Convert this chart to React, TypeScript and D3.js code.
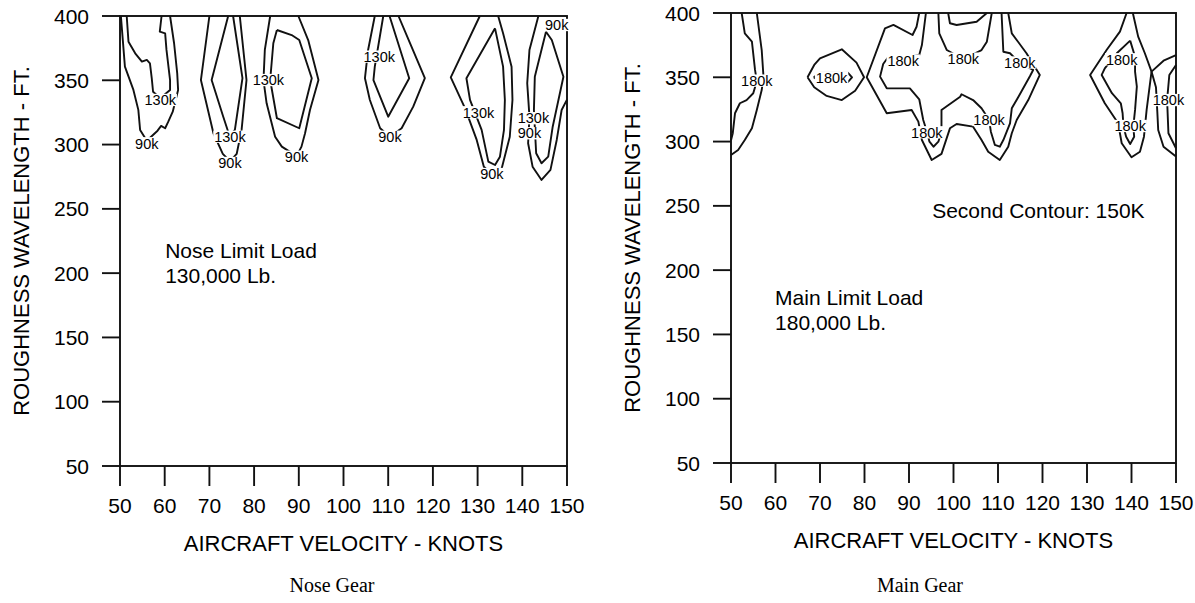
import React from "react";
import * as d3 from "d3";

type Pt = [number, number];

// Axis ticks
const velocityTicks = [50, 60, 70, 80, 90, 100, 110, 120, 130, 140, 150];
const wavelengthTicks = [50, 100, 150, 200, 250, 300, 350, 400];

// ---- Nose gear load contours: [velocity (kt), wavelength (ft)] ----
const noseA90: Pt[] = [[50.2, 400], [51.1, 360.6], [53.0, 342.5], [54.1, 327], [54.5, 311.4], [56.0, 303], [58.4, 310.8], [59.2, 314.5], [60.1, 312.7], [60.8, 317.8], [61.8, 325.6], [63.0, 342.5], [62.8, 355.4], [62.1, 378.8], [61.2, 400]];
const noseA130: Pt[] = [[51.5, 400], [51.9, 380], [53.4, 371], [54.9, 364.5], [56.0, 365.8], [56.7, 363.2], [57.1, 351.6], [57.4, 341.1], [59, 336], [61.2, 342.5], [61.2, 350.2], [60.4, 373.6], [60.1, 386.5], [58.9, 387.8], [59.3, 400]];
const noseB90: Pt[] = [[70.0, 400], [68.1, 350.2], [70.9, 308.8], [73.0, 292.7], [74.6, 287], [76.1, 292.7], [77.2, 311.4], [78.3, 350.2], [76.8, 400]];
const noseB130: Pt[] = [[74.2, 400], [70.5, 350.2], [73.1, 321.7], [74.2, 310], [74.6, 307], [75.7, 311.4], [77.4, 351.6], [75.3, 400]];
const noseC90: Pt[] = [[83.6, 400], [82.4, 373.6], [82.1, 350.2], [82.8, 332.1], [84.7, 306.1], [86.2, 298.4], [89.5, 291], [90.6, 298.4], [91.4, 308.8], [92.5, 326.9], [94.4, 350.2], [92.1, 381.3], [89.9, 400]];
const noseC130: Pt[] = [[85.1, 389.1], [88.4, 385.2], [90.1, 381.3], [92.9, 351.6], [90.1, 312.7], [85.1, 320.5], [83.6, 350.2], [84.3, 378.8], [85.1, 389.1]];
const noseD90: Pt[] = [[107.0, 400], [105.5, 373.6], [104.8, 351.6], [105.9, 334.7], [108.2, 312.7], [110.4, 306], [113.0, 312.7], [115.6, 329.5], [118.2, 351.6], [114.9, 378.8], [112.3, 400]];
const noseD130: Pt[] = [[108.9, 400], [107.0, 360.6], [106.7, 350.2], [110.0, 321.7], [114.7, 351.6], [110.3, 400]];
const noseE90: Pt[] = [[130.5, 400], [124.0, 352.3], [127.2, 328.2], [129.8, 303.6], [131.4, 282.8], [133.2, 277], [135.4, 281.6], [137.2, 306.1], [137.8, 334.7], [137.6, 360.6], [135.7, 386.5], [134.6, 400]];
const noseE130: Pt[] = [[133.9, 390.4], [127.5, 351.6], [128.3, 334.7], [130.9, 311.4], [132.4, 286.7], [133.9, 284.1], [135.0, 290.6], [135.9, 311.4], [136.1, 334.7], [135.7, 360.6], [133.9, 390.4]];
const noseF90: Pt[] = [[143.6, 400], [141.6, 373.6], [141.1, 347.7], [141.6, 321.7], [141.3, 301], [142.3, 282.8], [144.3, 272.5], [146.3, 280.3], [147.7, 303.6], [148.8, 326.9], [150, 335]];
const noseF130: Pt[] = [[145.3, 387.8], [142.8, 352.8], [142.6, 326.9], [143.1, 293.2], [144.3, 285.5], [145.8, 290.6], [146.8, 313.9], [149.2, 352.8], [146.6, 381.3], [145.3, 387.8]];

// Contour label texts and their anchor points
const noseLabelText = ["130k", "90k", "130k", "90k", "130k", "90k", "130k", "90k", "130k", "90k", "130k", "90k", "90k"];
const noseLabelAt: Pt[] = [[59.0, 334.7], [56.0, 301], [74.6, 306.1], [74.6, 285.7], [83.2, 350.2], [89.5, 290.6], [108.0, 368.4], [110.4, 306.1], [130.2, 325.1], [133.2, 277.1], [142.5, 320.5], [141.6, 308.8], [147.7, 393]];

// ---- Main gear load contours ----
const mainR1_180: Pt[] = [[52.4, 400], [53.1, 384.2], [54.7, 377.7], [55.4, 355.7], [55.8, 347], [55.0, 337.6], [53.5, 332.3], [52.0, 329.8], [50.9, 322], [50.4, 306.5], [50.0, 301]];
const mainR1_150: Pt[] = [[55.8, 400], [56.9, 371.2], [57.3, 350.5], [56.9, 340.1], [55.8, 324.6], [54.7, 310.3], [53.1, 301.2], [51.6, 293.5], [50.0, 289.6]];
const mainR2_150: Pt[] = [[67.2, 350], [68.7, 359.6], [70.0, 364.8], [74.9, 371.8], [78.2, 361.4], [79.9, 350], [77.9, 339.6], [74.9, 332.3], [71.5, 335.5], [68.7, 342.2], [67.2, 350]];
const mainR2_180: Pt[] = [[68.6, 350], [70.0, 353.5], [76.3, 353.5], [77.2, 350], [76.3, 346.5], [70.0, 346.5], [68.6, 350]];
const mainR3_150: Pt[] = [[92.3, 400], [91.7, 389.3], [90.8, 382.9], [86.5, 390.7], [84.6, 388.1], [80.5, 350.0], [85.0, 322.0], [90.6, 324.6], [92.1, 315.5], [92.9, 301.2], [95.1, 285.7], [97.3, 290.4], [99.2, 310.3], [100.7, 313.7], [104.4, 311.6], [106.3, 301.2], [107.8, 292.1], [110.4, 285.7], [112.3, 296.0], [113.1, 306.5], [114.2, 316.8], [116.8, 332.3], [119.4, 351.8], [116.4, 368.7], [113.1, 384.2], [112.3, 400]];
const mainR3_180: Pt[] = [[93.8, 400], [92.9, 375.1], [92.3, 367.3], [88.7, 365], [85.3, 365.6], [84.2, 360.3], [83.5, 350.5], [85.0, 341.4], [90.2, 341.4], [92.3, 332.9], [93.2, 316.8], [94.0, 308], [94.6, 299.9], [95.5, 296.0], [96.6, 299.9], [97.3, 307.7], [97.3, 324.6], [99.2, 329.2], [101.5, 334.9], [101.8, 336.8], [104.4, 332.3], [106.3, 325.9], [108.0, 317], [108.4, 307.7], [109.3, 297.4], [110.4, 296.0], [111.2, 301.2], [112.7, 314.2], [113.1, 325.9], [114.6, 334.9], [117.2, 351.0], [117.9, 355.7], [114.9, 361], [112.7, 368.7], [111.2, 369.9], [110.8, 400]];
const mainR3_dip180: Pt[] = [[96.6, 400], [96.8, 384.2], [98.5, 371.2], [102.2, 364], [106.3, 371.2], [107.5, 377.7], [108.6, 400]];
const mainR3_bump150: Pt[] = [[98.8, 400], [99.2, 392], [100.7, 390.7], [105.2, 393.2], [107.5, 400]];
const mainR4_150: Pt[] = [[138.9, 400], [137.4, 385.5], [134.4, 371.2], [130.7, 351.8], [134.0, 329.8], [137.0, 314.2], [137.8, 298.7], [140.0, 287.8], [141.9, 292.1], [142.8, 303.8], [143.4, 324.6], [144.5, 354.4], [143.0, 368.7], [141.5, 381.6], [140.3, 400]];
const mainR4_180: Pt[] = [[139.7, 378.5], [140.8, 366.0], [140.8, 354.4], [141.2, 342.7], [140.8, 324.6], [140.4, 311.6], [140.6, 303.8], [139.7, 298.1], [138.8, 303.8], [138.2, 311.6], [138.0, 322.0], [137.6, 329.8], [135.6, 337.6], [133.3, 351.8], [134.0, 357.0], [136.7, 368.7], [139.7, 378.5]];
const mainR5_150: Pt[] = [[150, 367.3], [147.2, 362.9], [144.5, 354.4], [145.5, 342.2], [145.8, 323.3], [146.0, 309.0], [147.2, 296.0], [150, 288.3]];
const mainR5_180: Pt[] = [[150, 359.6], [148.5, 351.8], [148.0, 332.3], [148.3, 306.5], [150, 294.8]];

const mainLabelText = ["180k", "180k", "180k", "180k", "180k", "180k", "180k", "180k", "180k", "180k"];
const mainLabelAt: Pt[] = [[55.8, 347.4], [72.6, 350], [88.7, 363], [94.0, 307.2], [108.0, 316.8], [114.9, 361.5], [102.2, 364.5], [137.8, 364.0], [139.7, 312.1], [148.3, 332.3]];

const noseContours = [noseA90, noseA130, noseB90, noseB130, noseC90, noseC130, noseD90, noseD130, noseE90, noseE130, noseF90, noseF130];
const mainContours = [mainR1_180, mainR1_150, mainR2_150, mainR2_180, mainR3_150, mainR3_180, mainR3_dip180, mainR3_bump150, mainR4_150, mainR4_180, mainR5_150, mainR5_180];

const SANS = "'Liberation Sans', Arial, Helvetica, sans-serif";
const SERIF = "'Liberation Serif', 'Times New Roman', serif";

type PanelProps = {
  x0: number;
  x1: number;
  yTop: number;
  yBottom: number;
  contours: Pt[][];
  labelText: string[];
  labelAt: Pt[];
  notes: { lines: string[]; at: Pt }[];
  caption: string;
  captionX: number;
  yTitleX: number;
};

function Panel(p: PanelProps) {
  const x = d3.scaleLinear().domain([50, 150]).range([p.x0, p.x1]);
  const y = d3.scaleLinear().domain([50, 400]).range([p.yBottom, p.yTop]);
  const line = d3
    .line<Pt>()
    .x((d) => x(d[0]))
    .y((d) => y(d[1]));
  const stroke = "#111";
  const sw = 1.9;
  const labelFs = 14.5;
  const midY = (p.yTop + p.yBottom) / 2;
  const midX = (p.x0 + p.x1) / 2;

  return (
    <g>
      {/* frame */}
      <rect x={p.x0} y={p.yTop} width={p.x1 - p.x0} height={p.yBottom - p.yTop} fill="none" stroke={stroke} strokeWidth={sw} />

      {/* y ticks */}
      {wavelengthTicks.map((t) => (
        <g key={"y" + t}>
          <line x1={p.x0 - 18} x2={p.x0} y1={y(t)} y2={y(t)} stroke={stroke} strokeWidth={sw} />
          <text x={p.x0 - 31} y={y(t)} dy="0.36em" textAnchor="end" fontFamily={SANS} fontSize={21} fill="#000">
            {t}
          </text>
        </g>
      ))}

      {/* x ticks */}
      {velocityTicks.map((t) => (
        <g key={"x" + t}>
          <line x1={x(t)} x2={x(t)} y1={p.yBottom} y2={p.yBottom + 20} stroke={stroke} strokeWidth={sw} />
          <text x={x(t)} y={p.yBottom + 47} textAnchor="middle" fontFamily={SANS} fontSize={21} fill="#000">
            {t}
          </text>
        </g>
      ))}

      {/* contour lines */}
      {p.contours.map((c, i) => (
        <path key={"c" + i} d={line(c) || ""} fill="none" stroke={stroke} strokeWidth={sw} strokeLinejoin="round" />
      ))}

      {/* contour labels with knocked-out background */}
      {p.labelText.map((txt, i) => {
        const [v, w] = p.labelAt[i];
        const cx = x(v);
        const cy = y(w);
        const digits = txt.length - 1;
        const width = labelFs * (0.556 * digits + 0.5) + 2;
        const height = labelFs * 0.85;
        return (
          <g key={"l" + i}>
            <rect x={cx - width / 2} y={cy - height / 2} width={width} height={height} fill="#fff" />
            <text x={cx} y={cy} dy="0.36em" textAnchor="middle" fontFamily={SANS} fontSize={labelFs} fill="#000">
              {txt}
            </text>
          </g>
        );
      })}

      {/* annotations */}
      {p.notes.map((n, i) => (
        <text key={"n" + i} x={x(n.at[0])} y={y(n.at[1])} fontFamily={SANS} fontSize={21} fill="#000">
          {n.lines.map((ln, j) => (
            <tspan key={j} x={x(n.at[0])} dy={j === 0 ? 0 : 25}>
              {ln}
            </tspan>
          ))}
        </text>
      ))}

      {/* axis titles */}
      <text x={midX} y={p.yBottom + 85} textAnchor="middle" fontFamily={SANS} fontSize={22} fill="#000">
        AIRCRAFT VELOCITY - KNOTS
      </text>
      <text transform={`translate(${p.yTitleX},${midY}) rotate(-90)`} textAnchor="middle" fontFamily={SANS} fontSize={22} fill="#000">
        ROUGHNESS WAVELENGTH - FT.
      </text>
      <text x={p.captionX} y={592} textAnchor="middle" fontFamily={SERIF} fontSize={20} fill="#000">
        {p.caption}
      </text>
    </g>
  );
}

export default function App() {
  return (
    <svg width={1195} height={603} style={{ position: "absolute", left: 0, top: 0, background: "#fff" }}>
      <rect width={1195} height={603} fill="#fff" />
      <Panel
        x0={120}
        x1={567}
        yTop={16}
        yBottom={466}
        contours={noseContours}
        labelText={noseLabelText}
        labelAt={noseLabelAt}
        notes={[{ lines: ["Nose Limit Load", "130,000 Lb."], at: [60.1, 211.8] }]}
        caption="Nose Gear"
        captionX={332}
        yTitleX={29}
      />
      <Panel
        x0={731}
        x1={1176}
        yTop={13}
        yBottom={463}
        contours={mainContours}
        labelText={mainLabelText}
        labelAt={mainLabelAt}
        notes={[
          { lines: ["Second Contour: 150K"], at: [95.2, 240.6] },
          { lines: ["Main Limit Load", "180,000 Lb."], at: [59.9, 172.9] },
        ]}
        caption="Main Gear"
        captionX={920}
        yTitleX={640}
      />
    </svg>
  );
}
